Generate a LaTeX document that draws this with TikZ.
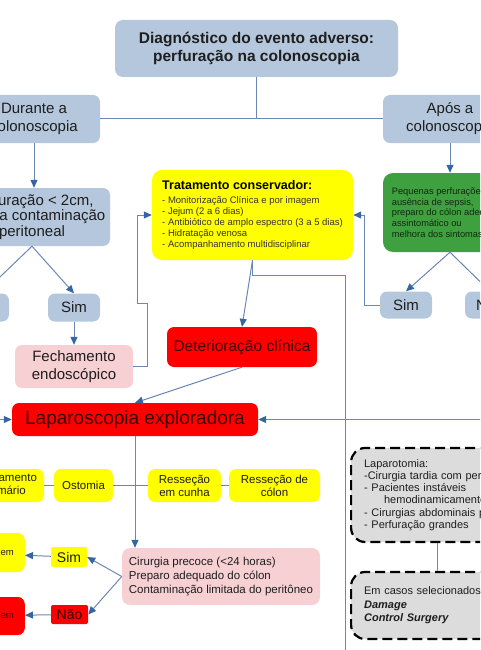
\documentclass[tikz,border=0pt]{standalone}
\usepackage{fontspec}
\setmainfont{Liberation Sans}
\usetikzlibrary{arrows.meta}
\definecolor{boxblue}{HTML}{B4C7DC}
\definecolor{boxyel}{HTML}{FFFF00}
\definecolor{boxred}{HTML}{FF0000}
\definecolor{boxpink}{HTML}{F7D0D4}
\definecolor{boxgreen}{HTML}{3FA03F}
\definecolor{boxgray}{HTML}{DCDCDC}
\definecolor{txt}{HTML}{1E1E1E}
\definecolor{txtred}{HTML}{3C0000}
\definecolor{txtgreen}{HTML}{0F2A0F}
\definecolor{linec}{HTML}{6A88B4}
\definecolor{tipc}{HTML}{3465A4}

\begin{document}
\begin{tikzpicture}[x=1pt,y=-1pt,
  bx/.style={rounded corners=7pt,inner sep=0pt,align=center,text=txt},
  gy/.style={bx,fill=boxblue,font=\fontsize{15}{18}\selectfont},
  yl/.style={bx,fill=boxyel},
  rd/.style={bx,fill=boxred,text=txtred},
  pk/.style={bx,fill=boxpink},
  gr/.style={bx,fill=boxgreen,text=txtgreen},
  dsh/.style={bx,rounded corners=14pt,fill=boxgray,draw=black,line width=2.2pt,dash pattern=on 10pt off 5pt,align=left},
  sml/.style={font=\fontsize{11.5}{13}\selectfont,minimum height=33pt},
  ln/.style={draw=linec,line width=1pt},
  ar/.style={ln,-{Triangle[length=8pt,width=7pt,color=tipc]}}]

\useasboundingbox (0,0) rectangle (480,650);
\clip (0,0) rectangle (480,650);

% top of the tree
\node[gy,font=\fontsize{15.5}{18}\selectfont\bfseries,minimum width=283pt,minimum height=57pt,rounded corners=8pt] (diag) at (256.5,48.5) {Diagnóstico do evento adverso:\\perfuração na colonoscopia};
\node[gy,minimum width=132pt,minimum height=48pt] (dur) at (34,119) {Durante a\\colonoscopia};
\node[gy,minimum width=134pt,minimum height=48pt] (apos) at (450,119) {Após a\\colonoscopia};
\draw[ln] (diag.south) |- (dur.east);
\draw[ln] (diag.south) |- (apos.west);

% conservative treatment
\node[yl,align=left,text=black!80,font=\fontsize{9.5}{11}\selectfont,minimum width=201pt,minimum height=90pt,rounded corners=10pt] (trat) at (252.5,215) {{\fontsize{12.5}{14}\selectfont\bfseries\color{black}Tratamento conservador:}\\[3pt]- Monitorização Clínica e por imagem\\- Jejum (2 a 6 dias)\\- Antibiótico de amplo espectro (3 a 5 dias)\\- Hidratação venosa\\- Acompanhamento multidisciplinar};
\node[rd,font=\fontsize{15.5}{18}\selectfont,minimum width=150pt,minimum height=40pt] (det) at (242,347) {Deterioração clínica};
\draw[ar] (trat.south) -- (det.north);
\coordinate (fora) at (345,665);
\draw[ln] (trat.south) -- ++(0,15) -| (fora);

% during the colonoscopy
\node[gy,font=\fontsize{15}{15.5}\selectfont,minimum width=156pt,minimum height=58pt] (perf) at (32,217) {Perfuração < 2cm,\\mínima contaminação\\peritoneal};
\node[gy,minimum width=52pt,minimum height=28pt] (nao1) at (-17,307.5) {Não};
\node[gy,minimum width=52pt,minimum height=28pt] (sim1) at (74,307.5) {Sim};
\node[pk,font=\fontsize{15}{18}\selectfont,minimum width=118pt,minimum height=43pt] (fech) at (74,366.5) {Fechamento\\endoscópico};
\draw[ar] (dur) -- (dur |- perf.north);
\draw[ar] (perf.south) -- (sim1.north);
\draw[ar] (perf.south) -- (nao1.north);
\draw[ar] (sim1) -- (fech);
\draw[ar] (fech.east) -- ++(14,0) -- ++(0,-63.5) -- ++(-10,0) |- (trat.west);

% after the colonoscopy
\node[gr,align=left,font=\fontsize{9.3}{10.8}\selectfont,minimum width=134pt,minimum height=79pt,rounded corners=10pt] (peq) at (450,212.5) {Pequenas perfurações,\\ausência de sepsis,\\preparo do cólon adequado,\\assintomático ou\\melhora dos sintomas};
\node[gy,minimum width=52pt,minimum height=27pt] (sim2) at (406,305) {Sim};
\node[gy,minimum width=50pt,minimum height=27pt] (nao2) at (490,305) {Não};
\draw[ar] (apos) -- (peq);
\draw[ar] (peq.south) -- (sim2.north);
\draw[ar] (peq.south) -- (nao2.north);
\draw[ar] (sim2.west) -- ++(-15,0) |- (trat.east);

% surgery
\node[rd,font=\fontsize{19}{22}\selectfont,minimum width=246pt,minimum height=33pt] (lap) at (135,419.5) {Laparoscopia exploradora};
\draw[ar] (det.south) -- (lap.north);
\draw[ar] (nao1.south) |- (lap.west);
\draw[ar] (nao2.south) |- (lap.east);

\node[yl,sml,minimum width=78pt] (fprim) at (5,485.5) {Fechamento\\primário};
\node[yl,sml,minimum width=59pt] (ost) at (83.5,485.5) {Ostomia};
\node[yl,sml,minimum width=73pt] (rcun) at (184.5,485.5) {Resseção\\em cunha};
\node[yl,sml,minimum width=91pt] (rcol) at (274.5,485.5) {Resseção de\\cólon};
\draw[ln] (fprim) -- (ost); \draw[ln] (ost) -- (rcun); \draw[ln] (rcun) -- (rcol);

\node[pk,align=left,font=\fontsize{11.5}{14}\selectfont,minimum width=198pt,minimum height=57pt,rounded corners=8pt] (cir) at (221,576.5) {Cirurgia precoce (<24 horas)\\Preparo adequado do cólon\\Contaminação limitada do peritôneo};
\draw[ar] (lap.south) -- (lap.south |- cir.north);

\node[yl,font=\fontsize{14}{16}\selectfont,minimum width=36pt,minimum height=20pt,rounded corners=2pt] (sim3) at (69,557) {Sim};
\node[rd,font=\fontsize{14}{16}\selectfont,minimum width=37pt,minimum height=19pt,rounded corners=2pt] (nao3) at (69.5,614.5) {Não};
\draw[ar] (cir.west) -- (sim3.east);
\draw[ar] (cir.west) -- (nao3.east);
\node[yl,font=\fontsize{9.5}{11}\selectfont,anchor=east,inner xsep=11pt,minimum height=39pt] (sut) at (25,552.5) {Sutura primária e drenagem};
\node[rd,font=\fontsize{9.5}{11}\selectfont,anchor=east,inner xsep=11pt,minimum height=38pt] (hart) at (25,616) {Ostomia e drenagem};
\draw[ar] (sim3) -- (sut);
\draw[ar] (nao3) -- (hart);

% laparotomy
\node[dsh,font=\fontsize{11}{12.2}\selectfont,text width=172pt,inner xsep=13pt,anchor=west,minimum height=94pt] (lapt) at (350,495) {Laparotomia:\\-Cirurgia tardia com peritonite\\- Pacientes instáveis\\\hspace*{20pt}hemodinamicamente\\- Cirurgias abdominais prévias\\- Perfuração grandes};
\node[dsh,font=\fontsize{11}{13.5}\selectfont,text width=172pt,inner xsep=13pt,anchor=west,minimum height=67pt] (dcs) at (350,605.5) {Em casos selecionados:\\\textbf{\textit{Damage}}\\\textbf{\textit{Control Surgery}}};
\draw[ln] ([xshift=87pt]lapt.south west) -- ([xshift=87pt]dcs.north west);
\end{tikzpicture}
\end{document}
